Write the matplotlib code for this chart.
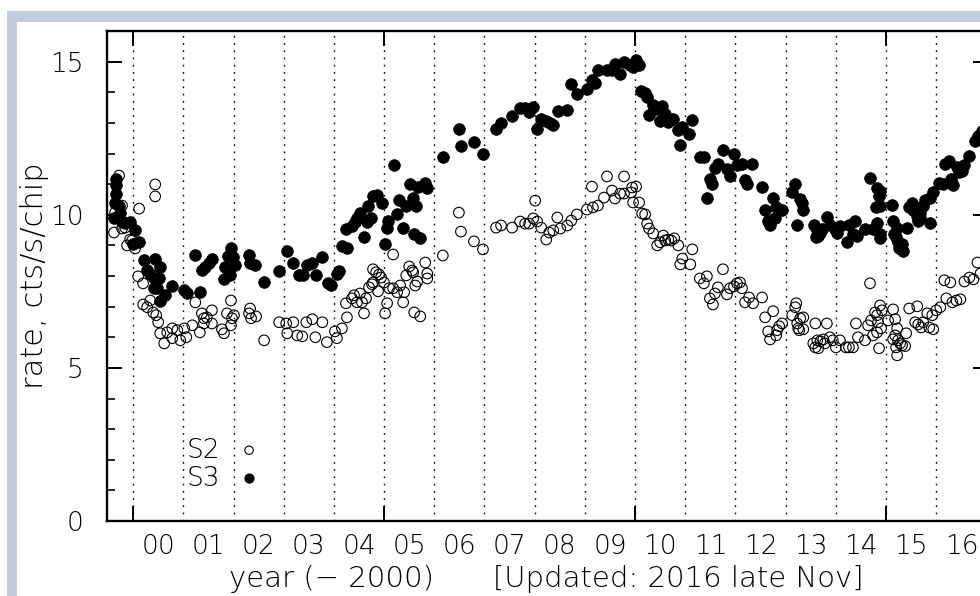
import numpy as np
import matplotlib
matplotlib.use('Agg')
from matplotlib import pyplot as plt
from matplotlib.patches import Rectangle
from matplotlib.ticker import FixedLocator, MultipleLocator

# S3 chip rate (filled circles)
s3_year = [
    1999.66, 1999.66, 1999.66, 1999.64, 1999.72, 1999.74, 1999.62, 1999.78, 1999.84, 1999.94,
    2000.04, 2000.00, 2000.12, 2000.22, 2000.44, 2000.28, 2000.54, 2000.34, 2000.42, 2000.52,
    2000.42, 2000.48, 2000.78, 2000.64, 2000.54, 2001.02, 2001.08, 2001.33, 2001.24, 2001.37,
    2001.43, 2001.51, 2001.57, 2001.81, 2001.83, 2001.89, 2001.95, 2001.99, 2001.93, 2002.03,
    2002.31, 2002.33, 2002.43, 2002.61, 2002.91, 2003.07, 2003.19, 2003.31, 2003.39, 2003.47,
    2003.57, 2003.65, 2003.77, 2003.89, 2003.94, 2004.06, 2004.10, 2004.16, 2004.26, 2004.24,
    2004.36, 2004.42, 2004.46, 2004.52, 2004.60, 2004.66, 2004.74, 2004.68, 2004.78, 2004.86,
    2004.96, 2005.02, 2005.06, 2005.08, 2005.20, 2005.26, 2005.30, 2005.38, 2005.44, 2005.52,
    2005.58, 2005.60, 2005.72, 2005.64, 2005.68, 2005.82, 2005.86, 2006.17, 2006.49, 2006.53,
    2006.79, 2006.97, 2007.23, 2007.33, 2007.55, 2007.71, 2007.81, 2007.89, 2007.97, 2008.05,
    2008.13, 2008.23, 2008.31, 2008.37, 2008.47, 2008.65, 2008.73, 2008.84, 2009.04, 2009.14,
    2009.20, 2009.26, 2009.44, 2009.54, 2009.60, 2009.70, 2009.78, 2009.90, 2009.96, 2010.02,
    2010.08, 2010.12, 2010.20, 2010.24, 2010.28, 2010.36, 2010.44, 2010.54, 2010.60, 2010.50,
    2010.66, 2010.76, 2010.86, 2010.94, 2010.90, 2011.08, 2011.14, 2011.29, 2011.37, 2011.43,
    2011.49, 2011.53, 2011.59, 2011.65, 2011.75, 2011.83, 2011.89, 2011.97, 2012.03, 2012.13,
    2012.19, 2012.23, 2012.33, 2012.53, 2012.59, 2012.65, 2012.69, 2012.75, 2012.81, 2012.87,
    2012.93, 2012.79, 2013.13, 2013.19, 2013.29, 2013.33, 2013.35, 2013.23, 2013.57, 2013.63,
    2013.65, 2013.69, 2013.61, 2013.73, 2013.82, 2013.88, 2013.98, 2014.02, 2014.08, 2014.22,
    2014.26, 2014.38, 2014.34, 2014.42, 2014.58, 2014.74, 2014.68, 2014.82, 2014.88, 2014.86,
    2014.80, 2014.88, 2014.82, 2014.88, 2014.88, 2015.12, 2015.14, 2015.16, 2015.20, 2015.22,
    2015.24, 2015.26, 2015.32, 2015.34, 2015.42, 2015.46, 2015.54, 2015.62, 2015.64, 2015.68,
    2015.74, 2015.78, 2015.88, 2015.94, 2015.88, 2015.52, 2015.68, 2016.06, 2016.14, 2016.18,
    2016.26, 2016.30, 2016.34, 2016.42, 2016.46, 2016.52, 2016.56, 2016.66, 2016.78, 2016.84, 2016.92,
]
s3_rate = [
    11.18, 10.96, 10.69, 10.37, 10.30, 10.07, 9.91, 9.75, 9.72, 9.75,
    9.49, 9.06, 9.10, 8.51, 8.57, 8.18, 8.28, 8.08, 7.95, 7.95,
    7.60, 7.60, 7.66, 7.37, 7.20, 7.53, 7.43, 7.47, 8.70, 8.18,
    8.28, 8.44, 8.54, 7.89, 8.31, 8.64, 8.93, 8.61, 8.02, 8.35,
    8.67, 8.44, 8.35, 7.82, 8.15, 8.83, 8.41, 8.02, 8.02, 8.35,
    8.41, 8.02, 8.61, 7.76, 7.69, 8.08, 8.15, 8.97, 8.90, 9.52,
    9.62, 9.75, 9.91, 10.07, 9.26, 9.75, 9.91, 10.30, 10.60, 10.66,
    10.40, 9.06, 9.58, 9.78, 11.61, 10.04, 10.47, 9.58, 10.30, 10.99,
    10.56, 9.36, 9.23, 10.30, 10.89, 11.05, 10.86, 11.90, 12.81, 12.26,
    12.36, 11.97, 12.81, 13.01, 13.21, 13.50, 13.50, 13.37, 13.53, 12.81,
    13.14, 13.07, 13.01, 12.94, 13.40, 13.43, 14.28, 13.95, 14.09, 14.41,
    14.31, 14.74, 14.74, 14.74, 14.93, 14.61, 15.00, 14.90, 14.83, 15.06,
    14.90, 14.05, 13.99, 13.86, 13.27, 13.60, 13.46, 13.56, 13.30, 13.07,
    13.04, 13.14, 12.78, 12.88, 12.29, 12.65, 13.11, 11.87, 11.87, 10.56,
    11.18, 11.02, 11.54, 11.67, 12.13, 11.51, 11.25, 12.00, 11.61, 11.67,
    11.12, 11.02, 11.67, 10.89, 10.17, 9.81, 9.65, 10.56, 10.24, 10.14,
    10.17, 9.88, 10.73, 11.02, 10.53, 10.37, 10.17, 9.65, 9.65, 9.49,
    9.29, 9.42, 9.26, 9.55, 9.94, 9.65, 9.52, 9.39, 9.62, 9.10,
    9.65, 9.81, 9.36, 9.32, 9.55, 9.55, 11.21, 10.86, 10.79, 10.60,
    10.24, 10.30, 9.72, 9.36, 9.23, 10.33, 9.81, 9.36, 9.26, 9.58,
    9.10, 8.93, 9.06, 8.83, 9.58, 10.24, 10.14, 9.97, 9.81, 10.07,
    10.30, 10.47, 10.56, 10.73, 9.72, 10.37, 9.88, 11.05, 11.02, 11.67,
    11.77, 11.18, 10.96, 11.57, 11.38, 11.44, 11.61, 11.93, 12.42, 12.58, 12.75,
]

# S2 chip rate (open circles)
s2_year = [
    1999.72, 2000.44, 2000.44, 2000.12, 1999.78, 1999.64, 1999.72, 1999.62, 1999.84, 1999.78,
    1999.94, 1999.98, 1999.88, 2000.04, 2000.10, 2000.20, 2000.20, 2000.28, 2000.34, 2000.40,
    2000.46, 2000.50, 2000.54, 2000.62, 2000.68, 2000.78, 2000.78, 2000.88, 2000.94, 2001.02,
    2001.06, 2001.18, 2001.24, 2001.33, 2001.37, 2001.41, 2001.47, 2001.41, 2001.57, 2001.57,
    2001.77, 2001.81, 2001.87, 2001.95, 2001.97, 2002.01, 2001.95, 2002.31, 2002.33, 2002.35,
    2002.45, 2002.61, 2002.91, 2003.05, 2003.19, 2003.07, 2003.27, 2003.37, 2003.45, 2003.57,
    2003.77, 2003.63, 2003.86, 2004.02, 2004.06, 2004.16, 2004.26, 2004.24, 2004.36, 2004.40,
    2004.46, 2004.52, 2004.56, 2004.60, 2004.64, 2004.70, 2004.76, 2004.78, 2004.78, 2004.84,
    2004.90, 2004.94, 2004.88, 2005.00, 2005.02, 2005.06, 2005.10, 2005.18, 2005.26, 2005.32,
    2005.40, 2005.18, 2005.38, 2005.44, 2005.50, 2005.56, 2005.58, 2005.62, 2005.66, 2005.60,
    2005.72, 2005.82, 2005.86, 2005.86, 2006.17, 2006.49, 2006.53, 2006.79, 2006.97, 2007.23,
    2007.33, 2007.55, 2007.71, 2007.81, 2007.89, 2007.97, 2008.01, 2008.05, 2008.13, 2008.23,
    2008.29, 2008.37, 2008.45, 2008.51, 2008.65, 2008.73, 2008.84, 2009.04, 2009.16, 2009.26,
    2009.14, 2009.38, 2009.44, 2009.54, 2009.60, 2009.70, 2009.78, 2009.78, 2009.92, 2009.94,
    2010.02, 2009.96, 2010.08, 2010.14, 2010.20, 2010.24, 2010.28, 2010.36, 2010.44, 2010.50,
    2010.56, 2010.60, 2010.66, 2010.72, 2010.78, 2010.86, 2010.94, 2010.90, 2011.10, 2011.14,
    2011.29, 2011.37, 2011.43, 2011.49, 2011.55, 2011.59, 2011.65, 2011.75, 2011.83, 2011.89,
    2011.97, 2012.03, 2012.09, 2012.13, 2012.19, 2012.27, 2012.35, 2012.53, 2012.59, 2012.75,
    2012.65, 2012.69, 2012.81, 2012.83, 2012.87, 2012.93, 2013.13, 2013.19, 2013.21, 2013.29,
    2013.35, 2013.23, 2013.25, 2013.27, 2013.35, 2013.59, 2013.82, 2013.55, 2013.59, 2013.63,
    2013.65, 2013.69, 2013.75, 2013.78, 2013.88, 2013.94, 2014.00, 2014.08, 2014.20, 2014.26,
    2014.34, 2014.40, 2014.44, 2014.58, 2014.68, 2014.64, 2014.70, 2014.74, 2014.78, 2014.82,
    2014.84, 2014.82, 2014.88, 2014.92, 2014.86, 2014.90, 2015.04, 2015.14, 2015.18, 2015.22,
    2015.18, 2015.14, 2015.24, 2015.20, 2015.22, 2015.28, 2015.32, 2015.40, 2015.38, 2015.46,
    2015.62, 2015.58, 2015.64, 2015.70, 2015.74, 2015.82, 2015.86, 2015.92, 2015.94, 2016.00,
    2016.08, 2016.16, 2016.28, 2016.20, 2016.32, 2016.40, 2016.48, 2016.56, 2016.66, 2016.74,
    2016.82, 2016.88,
]
s2_rate = [
    11.28, 10.99, 10.60, 10.20, 10.30, 10.07, 9.88, 9.42, 9.58, 9.55,
    9.19, 9.16, 9.00, 8.90, 7.99, 7.76, 7.07, 6.98, 7.20, 6.81,
    6.72, 6.49, 6.13, 5.80, 6.16, 6.29, 5.97, 6.23, 5.90, 6.29,
    6.00, 6.39, 7.14, 6.16, 6.78, 6.62, 6.65, 6.45, 6.88, 6.45,
    6.26, 6.13, 6.78, 7.20, 6.62, 6.72, 6.39, 6.78, 6.94, 6.62,
    6.68, 5.90, 6.49, 6.45, 6.49, 6.13, 6.06, 6.03, 6.49, 6.59,
    6.49, 6.00, 5.84, 6.19, 5.97, 6.29, 6.65, 7.11, 7.27, 7.37,
    7.14, 7.43, 7.14, 6.78, 7.27, 7.63, 7.73, 7.79, 8.22, 8.12,
    8.05, 7.95, 7.50, 7.79, 6.78, 7.11, 7.60, 7.60, 7.47, 7.69,
    7.47, 8.70, 7.14, 8.02, 8.31, 8.18, 8.12, 7.69, 7.82, 6.81,
    6.68, 8.44, 8.08, 7.92, 8.67, 10.07, 9.45, 9.13, 8.87, 9.58,
    9.65, 9.58, 9.78, 9.71, 9.71, 9.88, 10.46, 9.78, 9.58, 9.19,
    9.42, 9.49, 9.91, 9.55, 9.65, 9.81, 10.01, 10.17, 10.24, 10.30,
    10.92, 10.56, 11.25, 10.79, 10.53, 10.69, 11.25, 10.69, 10.73, 10.89,
    10.92, 10.40, 10.40, 10.04, 10.01, 9.71, 9.55, 9.39, 9.00, 9.10,
    9.32, 9.16, 9.19, 9.16, 9.23, 9.00, 8.57, 8.38, 8.38, 8.87,
    7.92, 7.76, 7.99, 7.27, 7.07, 7.43, 7.63, 8.22, 7.40, 7.60,
    7.66, 7.76, 7.79, 7.60, 7.14, 7.30, 7.11, 7.30, 6.65, 6.85,
    6.19, 5.93, 6.06, 6.23, 6.36, 6.45, 6.72, 6.98, 7.11, 6.62,
    6.65, 6.45, 6.29, 6.23, 6.26, 6.45, 6.45, 5.80, 5.67, 5.90,
    5.64, 5.87, 5.93, 5.80, 6.00, 5.90, 5.67, 5.90, 5.67, 5.67,
    5.67, 6.45, 6.00, 5.90, 7.76, 6.39, 6.55, 6.06, 6.81, 6.72,
    6.49, 6.16, 7.04, 6.88, 5.64, 6.29, 6.55, 6.91, 6.59, 6.29,
    6.06, 5.93, 5.90, 5.67, 5.41, 5.80, 5.74, 6.13, 5.71, 6.94,
    7.01, 6.49, 6.42, 6.32, 6.49, 6.78, 6.32, 6.72, 6.26, 6.88,
    6.98, 7.86, 7.79, 7.27, 7.14, 7.20, 7.24, 7.82, 7.95, 7.89,
    8.44, 8.08,
]

year_grid = list(range(2000, 2017))
year_labels = ['%02d' % (y - 2000) for y in year_grid]
legend_names = ['S2', 'S3']
xlabel_main = 'year (\u2212 2000)'
xlabel_note = '[Updated: 2016 late Nov]'
ylabel_text = 'rate, cts/s/chip'

FRAME = '#c2cddd'
plt.rcParams['font.family'] = ['DejaVu Sans']
plt.rcParams['font.weight'] = 'light'
plt.rcParams['axes.labelweight'] = 'light'
plt.rcParams['text.color'] = 'black'

fig = plt.figure(figsize=(9.8, 5.96), dpi=100)
fig.patch.set_facecolor('white')
# light blue-grey page frame (top and left edges)
fig.add_artist(Rectangle((7 / 980, -0.1), 2.0, 0.1 + 1 - 11 / 596, transform=fig.transFigure,
                         facecolor=FRAME, edgecolor='none', zorder=-10))
fig.add_artist(Rectangle((17 / 980, -0.1), 2.0, 0.1 + 1 - 22 / 596, transform=fig.transFigure,
                         facecolor='white', edgecolor='none', zorder=-9))

ax = fig.add_axes([107 / 980, 1 - 521 / 596, 881 / 980, 490 / 596])
ax.set_facecolor('none')
ax.set_xlim(1999.48, 2017.03)
ax.set_ylim(0, 16)

for yr in year_grid:
    ax.axvline(yr, color='black', lw=1.0, ls=(0, (1.2, 4.0)), zorder=1)

ax.scatter(s3_year, s3_rate, s=70, facecolor='black', edgecolor='black', lw=0.6, zorder=3)
ax.scatter(s2_year, s2_rate, s=58, facecolor='none', edgecolor='black', lw=0.8, zorder=4)

# legend drawn as in the original (labels + sample markers)
ax.text(2001.74, 2.31, legend_names[0], ha='right', va='center', fontsize=19)
ax.text(2001.74, 1.40, legend_names[1], ha='right', va='center', fontsize=19)
ax.scatter([2002.31], [2.31], s=36, facecolor='none', edgecolor='black', lw=0.8, zorder=4)
ax.scatter([2002.31], [1.40], s=40, facecolor='black', edgecolor='black', zorder=4)

for side in ax.spines.values():
    side.set_linewidth(1.7)

ax.xaxis.set_major_locator(FixedLocator([2000, 2005, 2010, 2015]))
ax.xaxis.set_minor_locator(FixedLocator([y + 0.5 for y in year_grid]))
ax.xaxis.set_major_formatter(plt.NullFormatter())
ax.xaxis.set_minor_formatter(plt.FixedFormatter(year_labels))
ax.tick_params(axis='x', which='major', direction='in', length=11, width=1.4,
               top=True, bottom=True)
ax.tick_params(axis='x', which='minor', length=0, pad=9, labelsize=19, top=False)

ax.yaxis.set_major_locator(MultipleLocator(5))
ax.yaxis.set_minor_locator(MultipleLocator(1))
ax.tick_params(axis='y', which='major', direction='in', length=11, width=1.4,
               left=True, right=True, pad=17, labelsize=19)
ax.tick_params(axis='y', which='minor', direction='in', length=5.5, width=1.2,
               left=True, right=True)

fig.text(35 / 980, 1 - 276 / 596, ylabel_text, rotation=90, ha='center', va='center',
         fontsize=22)
fig.text(331 / 980, 1 - 579 / 596, xlabel_main, ha='center', va='center', fontsize=21)
fig.text(678 / 980, 1 - 579 / 596, xlabel_note, ha='center', va='center', fontsize=21)

fig.savefig('out.png', dpi=100)
